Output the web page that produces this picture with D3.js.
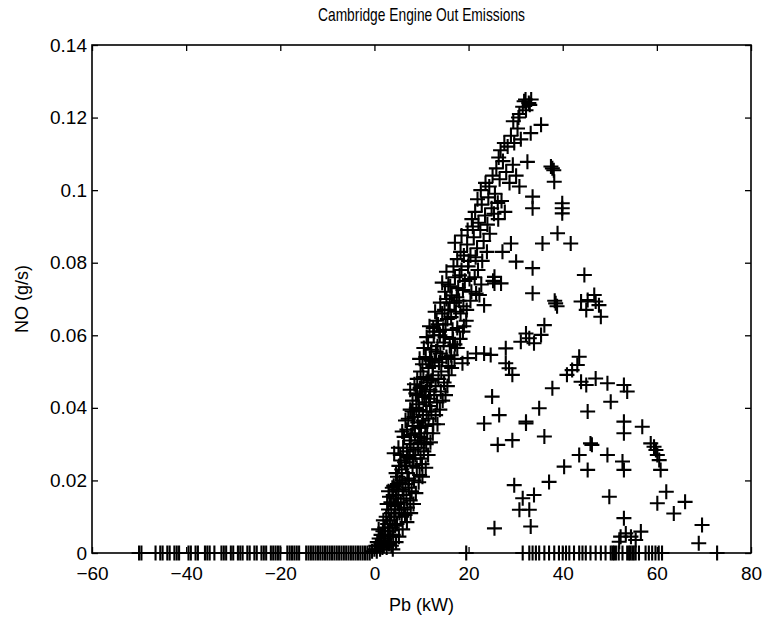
<!DOCTYPE html>
<html>
<head>
<meta charset="utf-8">
<script src="https://cdn.jsdelivr.net/npm/d3@7"></script>
<style>
body { margin: 0; background: #fff; }
text { font-family: "Liberation Sans", Arial, Helvetica, sans-serif; fill: #000; }
</style>
</head>
<body>
<svg id="drawing_region"></svg>
<script>
// tick values
const x_ticks = [-60, -40, -20, 0, 20, 40, 60, 80];
const y_ticks = [0, 0.02, 0.04, 0.06, 0.08, 0.1, 0.12, 0.14];

// Pb values of motoring / idle points (NO = 0)
const idle_pb = [-50, -49.5, -46.5, -45.5, -45, -44, -43.5, -42.5, -42, -41.5, -39.5, -39, -38, -37.5,
    -36, -35.5, -35, -34, -32.5, -32, -31.5, -30.5, -30, -29, -28.5, -28, -27, -26.5, -25.5, -25,
    -24, -23.5, -23, -22, -21.5, -21, -20.5, -20, -18.5, -18, -17.5, -17, -16.5, -16, -14.5, -14,
    -13.5, -13, -12.5, -12, -11.5, -11, -10.5, -10, -9.5, -9, -8.5, -8, -7.5, -7, -6.5, -6, -5.5,
    -5, -4.5, -4, -3.5, -3, -2.5, -2, -1.5, -1];

// Pb values of high power points with NO = 0
const cutoff_pb = [19.5, 31.5, 32.9, 33.6, 34.3, 35, 36.1, 37.1, 38.2, 39.2, 40, 40.7, 41.4, 42.4, 43.5,
    44.2, 44.9, 45.9, 47, 48.1, 49.1, 50.2, 50.6, 50.9, 51.3, 51.9, 52.7, 53.7, 54.1, 54.4, 54.8,
    55.1, 55.5, 56.2, 57.6, 58.3, 59, 59.7, 60.4, 61.1, 72.8];

// main ramp [Pb, NO]
const ramp_points = [
    [-0.5, 0.0005], [0, 0.001], [0.5, 0.0005], [0.8, 0.002], [1.2, 0.001], [1.5, 0.003], [2, 0.002],
    [2.3, 0.004], [2.8, 0.003], [3.2, 0.005], [1, 0.004], [1.8, 0.006], [0.3, 0.002], [2.6, 0.0015],
    [3.6, 0.002], [2.2, 0.007], [2.8, 0.008], [3.3, 0.009], [3.8, 0.007], [4.2, 0.01], [4.8, 0.008],
    [5.3, 0.011], [2.5, 0.01], [3, 0.012], [3.6, 0.011], [4.5, 0.012], [5.8, 0.01], [6.3, 0.012],
    [1.9, 0.009], [3.5, 0.014], [4, 0.016], [4.6, 0.015], [5.1, 0.017], [5.6, 0.014], [6.2, 0.016],
    [6.8, 0.015], [7.3, 0.018], [3.8, 0.018], [4.9, 0.019], [5.9, 0.02], [6.6, 0.019], [7.9, 0.017],
    [8.4, 0.02], [4.3, 0.013], [4.6, 0.022], [5.2, 0.024], [5.8, 0.023], [6.4, 0.025], [7, 0.022],
    [7.5, 0.026], [8.1, 0.024], [8.7, 0.027], [5.5, 0.027], [6.1, 0.029], [6.9, 0.028], [7.7, 0.03],
    [9.3, 0.029], [9.8, 0.026], [10.5, 0.028], [4.2, 0.0275], [6.3, 0.032], [6.9, 0.034], [7.5, 0.031],
    [8.1, 0.035], [8.6, 0.033], [9.2, 0.036], [9.7, 0.032], [10.3, 0.038], [7.2, 0.037], [8, 0.039],
    [8.9, 0.04], [10.8, 0.035], [11.5, 0.037], [12.1, 0.039], [11.2, 0.033], [9.5, 0.0394],
    [8.1, 0.042], [8.8, 0.044], [9.4, 0.041], [10, 0.046], [10.6, 0.043], [11.2, 0.047], [11.8, 0.045],
    [12.4, 0.049], [9.1, 0.048], [9.8, 0.05], [13, 0.046], [13.6, 0.048], [14.2, 0.05], [11.3, 0.048],
    [10.2, 0.0431], [15.5, 0.046], [10.2, 0.052], [10.9, 0.054], [11.5, 0.051], [12.1, 0.056],
    [12.8, 0.053], [13.4, 0.057], [14, 0.055], [14.7, 0.058], [15.3, 0.054], [11.4, 0.058], [12.6, 0.06],
    [16, 0.057], [16.7, 0.059], [13.9, 0.06], [12.7, 0.061], [12.5, 0.062], [13.2, 0.064], [13.8, 0.061],
    [14.4, 0.066], [15.1, 0.063], [15.7, 0.067], [16.3, 0.065], [17, 0.069], [17.6, 0.062], [18.3, 0.066],
    [14, 0.069], [15.3, 0.07], [18.9, 0.068], [19.5, 0.064], [15, 0.072], [15.7, 0.074], [16.4, 0.071],
    [17.1, 0.076], [17.8, 0.073], [18.5, 0.078], [19.2, 0.075], [19.9, 0.079], [20.6, 0.072],
    [21.3, 0.076], [22, 0.078], [16.8, 0.079], [22.7, 0.074], [17.6, 0.081], [18.3, 0.083], [19, 0.082],
    [19.7, 0.085], [20.4, 0.082], [21.1, 0.087], [21.8, 0.084], [22.5, 0.089], [23.2, 0.086],
    [23.9, 0.083], [24.5, 0.088], [19.8, 0.089], [20.9, 0.09], [20.7, 0.092], [21.4, 0.094],
    [22.1, 0.091], [22.8, 0.096], [23.5, 0.093], [24.2, 0.098], [24.9, 0.095], [25.6, 0.099],
    [26.3, 0.092], [27, 0.097], [27.7, 0.094], [22.6, 0.1], [23.6, 0.102], [24.4, 0.101], [25.1, 0.104],
    [25.9, 0.106], [26.6, 0.103], [27.3, 0.108], [28, 0.105], [28.7, 0.102], [29.4, 0.107], [30.1, 0.104],
    [30.8, 0.101], [26.4, 0.109], [26.8, 0.111], [27.6, 0.113], [28.3, 0.112], [29, 0.115],
    [29.7, 0.113], [30.4, 0.117], [31.1, 0.114], [29.5, 0.119], [30.6, 0.12], [30.8, 0.121],
    [31.5, 0.123], [32.2, 0.122], [32.8, 0.124], [33.3, 0.125], [32.1, 0.125], [31.8, 0.1245],
    [33, 0.1235],
    [0.6, 0.003], [1.4, 0.005], [2.1, 0.0035], [2.9, 0.006], [3.4, 0.0045], [4, 0.005], [1.7, 0.0015],
    [4.4, 0.0075], [3.1, 0.0025], [0.9, 0.0065], [2.7, 0.0135], [3.2, 0.0155], [4.1, 0.0185],
    [4.7, 0.0175], [5.4, 0.0195], [6, 0.0175], [7, 0.0125], [7.6, 0.0145], [5, 0.0135], [6.5, 0.0105],
    [3, 0.017], [4.9, 0.021], [5.6, 0.0255], [6.7, 0.024], [7.3, 0.0205], [8.3, 0.0285], [9, 0.0235],
    [9.6, 0.0215], [10.1, 0.0245], [5.1, 0.029], [7.1, 0.0265], [11, 0.03], [5.9, 0.0335], [6.6, 0.0365],
    [7.8, 0.0325], [8.4, 0.0375], [9.5, 0.0345], [10, 0.0305], [10.6, 0.0315], [11.1, 0.039],
    [12.5, 0.0355], [7.6, 0.0395], [13, 0.038], [7.6, 0.045], [8.5, 0.0465], [9.1, 0.0435],
    [9.7, 0.0455], [10.4, 0.0485], [11, 0.0415], [11.6, 0.0425], [12.1, 0.0475], [12.7, 0.0435],
    [13.3, 0.0415], [14.1, 0.0445], [14.8, 0.047], [9.6, 0.0535], [10.5, 0.0565], [11.1, 0.0595],
    [11.8, 0.0535], [12.4, 0.0515], [13.1, 0.0555], [13.7, 0.0525], [14.4, 0.0535], [15, 0.0595],
    [15.7, 0.0515], [16.3, 0.0545], [17.1, 0.0575], [11.7, 0.0625], [12.9, 0.0665], [14.6, 0.0615],
    [15.5, 0.0645], [16.6, 0.0615], [17.3, 0.0665], [18, 0.0695], [19, 0.0625], [16, 0.069],
    [14.4, 0.0745], [15.3, 0.0775], [16.1, 0.0735], [17.5, 0.0705], [18.8, 0.0725], [20.2, 0.0755],
    [21.6, 0.0715], [18.1, 0.0765], [17.1, 0.0855], [18.5, 0.0875], [20, 0.0805], [21.5, 0.0815],
    [22.9, 0.0805], [24, 0.0905], [25.4, 0.0935], [26.2, 0.0965], [21.9, 0.0975],
    [8.8, 0.0165], [9.4, 0.0195], [10.2, 0.021], [10.9, 0.0235], [11.4, 0.027], [11.9, 0.0305],
    [12.4, 0.033], [13.4, 0.0355], [13.9, 0.0395], [14.5, 0.042], [15.1, 0.0435], [15.8, 0.049],
    [16.4, 0.051], [17, 0.0535], [17.6, 0.0565], [18.2, 0.059], [18.8, 0.061], [19.6, 0.067],
    [20.4, 0.0695], [6.9, 0.0085], [7.7, 0.011], [8.3, 0.0135], [5.2, 0.0045], [6, 0.0065],
    [4.6, 0.003], [3.9, 0.001], [9.9, 0.0345], [10.9, 0.0445], [12, 0.053], [13.5, 0.063],
    [14.9, 0.067], [11.8, 0.0405], [10.3, 0.0365], [9.2, 0.031], [8.3, 0.026], [7.2, 0.02]
];

// points off the main ramp [Pb, NO]
const spread_points = [
    [35.4, 0.118], [33.2, 0.1157], [32.5, 0.1078], [37.8, 0.106], [37.5, 0.1065], [38.1, 0.1055],
    [38.2, 0.1023], [33.6, 0.0982], [33.6, 0.095], [39.9, 0.0964], [39.9, 0.095], [39.9, 0.0936],
    [38.9, 0.0881], [35.7, 0.0853], [41.7, 0.0853], [29, 0.0853], [27.2, 0.083], [30.1, 0.0803],
    [33.6, 0.0785], [25.5, 0.0761], [44.6, 0.0766], [26.9, 0.0743], [33.6, 0.0716], [38.5, 0.0688],
    [38.3, 0.0695], [38.8, 0.068], [43.9, 0.0693], [45.3, 0.0697], [46.7, 0.0711], [47, 0.0693],
    [47.7, 0.0683], [45, 0.067], [48.1, 0.0651], [36.1, 0.0628], [35.4, 0.0601], [32.9, 0.0592],
    [32.2, 0.0605], [31.1, 0.0582], [33.9, 0.0578], [27.9, 0.0564], [27.9, 0.0523], [28.6, 0.0509],
    [29.3, 0.0491], [43.5, 0.0541], [43.1, 0.0518], [42, 0.0504], [40.9, 0.0491], [43.9, 0.0472],
    [45, 0.0463], [47, 0.0481], [49.5, 0.0468], [53, 0.0463], [53.7, 0.0445], [50.2, 0.0417],
    [37.8, 0.0454], [35, 0.0399], [32.2, 0.0362], [45.3, 0.039], [53, 0.0362], [26.5, 0.038],
    [25.5, 0.0743], [25.2, 0.075], [22.3, 0.0711], [23.3, 0.0683], [18.7, 0.0523], [19.8, 0.0537],
    [21.6, 0.055], [23.3, 0.055], [24.7, 0.0546], [25, 0.0431], [23.3, 0.0357], [26.2, 0.0298],
    [25.5, 0.0068], [53, 0.033], [56.9, 0.0348], [46.2, 0.0298], [45.9, 0.0302], [43.5, 0.027],
    [40.3, 0.0238], [45.3, 0.0229], [49.5, 0.027], [52.7, 0.0252], [53, 0.0229], [58.7, 0.0302],
    [59.4, 0.0293], [59.8, 0.0284], [60.1, 0.027], [60.5, 0.0256], [60.8, 0.0229], [49.9, 0.0155],
    [62, 0.0169], [60.1, 0.0137], [66, 0.0141], [63.6, 0.0109], [69.6, 0.0077], [68.9, 0.0027],
    [53, 0.0096], [53.4, 0.0054], [54.5, 0.0045], [52.3, 0.0045], [56.6, 0.0059], [55.5, 0.0036],
    [52, 0.0031], [29.3, 0.0311], [32.2, 0.0357], [36.1, 0.0321], [37.1, 0.0196], [29.7, 0.0187],
    [31.5, 0.0151], [33.9, 0.016], [30.8, 0.0119], [32.9, 0.0119], [33.2, 0.0073]
];

class ScatterPlot {
    constructor(config, data) {
        this.config = config;
        this.data = data;
        this.init();
    }

    init() {
        let self = this;

        self.svg = d3.select(self.config.parent)
            .attr('width', self.config.width)
            .attr('height', self.config.height);

        self.chart = self.svg.append('g')
            .attr('transform', `translate(${self.config.margin.left}, ${self.config.margin.top})`);

        self.inner_width = self.config.width - self.config.margin.left - self.config.margin.right;
        self.inner_height = self.config.height - self.config.margin.top - self.config.margin.bottom;

        self.xscale = d3.scaleLinear()
            .domain([-60, 80])
            .range([0, self.inner_width]);

        self.yscale = d3.scaleLinear()
            .domain([0, 0.14])
            .range([self.inner_height, 0]);
    }

    render() {
        let self = this;
        const tick = 6;
        const font = 19;

        // bottom / left axes with labels, top / right axes ticks only (MATLAB box)
        const xaxis = d3.axisBottom(self.xscale).tickValues(x_ticks)
            .tickSizeInner(-tick).tickSizeOuter(0).tickPadding(14).tickFormat(d3.format('d'));
        const yaxis = d3.axisLeft(self.yscale).tickValues(y_ticks)
            .tickSizeInner(-tick).tickSizeOuter(0).tickPadding(5).tickFormat(d => d === 0 ? '0' : d3.format('.2~f')(d));
        const xaxis_top = d3.axisTop(self.xscale).tickValues(x_ticks)
            .tickSizeInner(-tick).tickSizeOuter(0).tickFormat('');
        const yaxis_right = d3.axisRight(self.yscale).tickValues(y_ticks)
            .tickSizeInner(-tick).tickSizeOuter(0).tickFormat('');

        self.chart.append('g')
            .attr('transform', `translate(0, ${self.inner_height})`)
            .call(xaxis);
        self.chart.append('g').call(yaxis);
        self.chart.append('g').call(xaxis_top);
        self.chart.append('g')
            .attr('transform', `translate(${self.inner_width}, 0)`)
            .call(yaxis_right);

        self.chart.selectAll('.domain').remove();
        self.chart.selectAll('.tick line')
            .attr('stroke', '#000')
            .attr('stroke-width', 1.3);
        self.chart.selectAll('.tick text')
            .attr('font-size', font)
            .attr('font-family', '"Liberation Sans", Arial, sans-serif')
            .attr('fill', '#000');

        self.chart.append('rect')
            .attr('x', 0)
            .attr('y', 0)
            .attr('width', self.inner_width)
            .attr('height', self.inner_height)
            .attr('fill', 'none')
            .attr('stroke', '#000')
            .attr('stroke-width', 1.6);

        // '+' markers
        const s = 7.5;
        self.chart.append('g')
            .selectAll('path')
            .data(self.data)
            .join('path')
            .attr('d', d => {
                const cx = self.xscale(d.pb);
                const cy = self.yscale(d.no);
                return `M${cx - s},${cy}H${cx + s}M${cx},${cy - s}V${cy + s}`;
            })
            .attr('fill', 'none')
            .attr('stroke', '#000')
            .attr('stroke-width', 2.1);

        // title and axis labels
        self.svg.append('text')
            .attr('x', self.config.margin.left + self.inner_width / 2)
            .attr('y', 21)
            .attr('text-anchor', 'middle')
            .attr('font-size', '19px')
            .attr('textLength', 207)
            .attr('lengthAdjust', 'spacingAndGlyphs')
            .text('Cambridge Engine Out Emissions');

        self.svg.append('text')
            .attr('x', self.config.margin.left + self.inner_width / 2)
            .attr('y', 611)
            .attr('text-anchor', 'middle')
            .attr('font-size', '18px')
            .text('Pb (kW)');

        self.svg.append('text')
            .attr('transform', `translate(28, ${self.config.margin.top + self.inner_height / 2}) rotate(-90)`)
            .attr('text-anchor', 'middle')
            .attr('font-size', '18px')
            .text('NO (g/s)');
    }
}

const data = [];
idle_pb.forEach(p => data.push({ pb: p, no: 0 }));
cutoff_pb.forEach(p => data.push({ pb: p, no: 0 }));
ramp_points.forEach(d => data.push({ pb: d[0], no: d[1] }));
spread_points.forEach(d => data.push({ pb: d[0], no: d[1] }));

var config = {
    parent: '#drawing_region',
    width: 765,
    height: 621,
    margin: { top: 45, right: 14, bottom: 68, left: 92 }
};

const scatter_plot = new ScatterPlot(config, data);
scatter_plot.render();
</script>
</body>
</html>
